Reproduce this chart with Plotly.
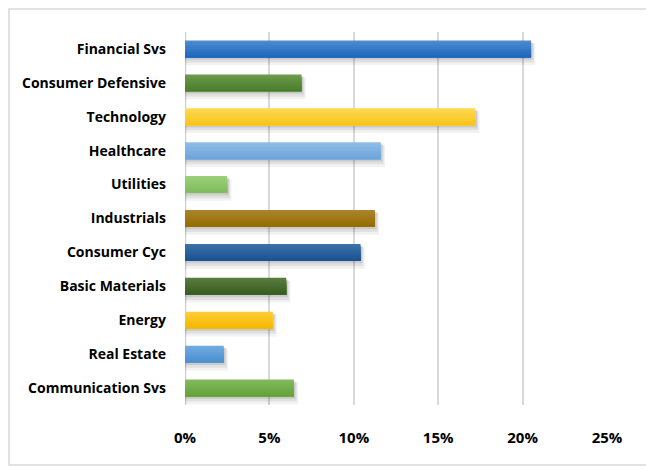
import plotly.graph_objects as go

categories = ["Financial Svs", "Consumer Defensive", "Technology", "Healthcare", "Utilities",
              "Industrials", "Consumer Cyc", "Basic Materials", "Energy", "Real Estate",
              "Communication Svs"]
values = [20.5, 6.9, 17.2, 11.6, 2.5, 11.25, 10.4, 6.0, 5.2, 2.3, 6.45]
top_colors = ["#4D8AD1", "#6A9A4A", "#FFD84F", "#8EBCE7", "#9BCE7B", "#A8832B",
              "#3B70A9", "#577B3D", "#FFCC35", "#70AAE0", "#82B95A"]
bottom_colors = ["#1F69BD", "#4B7E2D", "#F7C41A", "#6EA5DB", "#7FBD5B", "#956E00",
                 "#1B5390", "#395E21", "#F4B900", "#4B90D1", "#64A339"]
tick_vals = [0, 5, 10, 15, 20, 25]
tick_text = ["0%", "5%", "10%", "15%", "20%", "25%"]


def mix(c1, c2, t):
    a = [int(c1[i:i + 2], 16) for i in (1, 3, 5)]
    b = [int(c2[i:i + 2], 16) for i in (1, 3, 5)]
    return "#%02X%02X%02X" % tuple(round(a[k] + (b[k] - a[k]) * t) for k in range(3))


fig = go.Figure()

# soft drop shadow
for dx, off, w, alpha in [(0.25, -0.16, 0.64, 0.05), (0.17, -0.18, 0.58, 0.07), (0.1, -0.2, 0.52, 0.09)]:
    fig.add_trace(go.Bar(
        x=[v + dx for v in values], y=categories, orientation="h",
        marker=dict(color="rgba(0,0,0,%s)" % alpha, line=dict(width=0)),
        width=w, offset=off, hoverinfo="skip",
    ))

# gradient bar: each layer spans from its top edge down to the bar bottom
N = 8
bw = 0.5
for i in range(N):
    t = i / (N - 1)
    fig.add_trace(go.Bar(
        x=values, y=categories, orientation="h",
        marker=dict(color=[mix(a, b, t) for a, b in zip(top_colors, bottom_colors)],
                    line=dict(width=0)),
        width=bw - i * bw / N, offset=-bw / 2 + i * bw / N,
        hoverinfo="x+y" if i == 0 else "skip",
    ))

W, H = 646, 458
L, R, T, B = 177, 47, 24, 61
PW, PH = W - L - R, H - T - B

FONT = "Open Sans"
fig.update_layout(
    width=W, height=H,
    margin=dict(l=L, r=R, t=T, b=B),
    barmode="overlay",
    paper_bgcolor="white", plot_bgcolor="white",
    showlegend=False,
    font=dict(family=FONT, color="#000000"),
    xaxis=dict(
        range=[0, 25], tickvals=tick_vals, ticktext=tick_text,
        showgrid=True, gridcolor="#D9D9D9", gridwidth=1.5,
        zeroline=False, showline=False,
        tickfont=dict(family=FONT, size=15, color="#000000", weight="bold"),
        ticklabelstandoff=22, fixedrange=True,
    ),
    yaxis=dict(
        autorange="reversed",
        showgrid=False, zeroline=False, showline=False,
        tickfont=dict(family=FONT, size=14, color="#000000", weight="bold"),
        ticklabelstandoff=18, fixedrange=True,
    ),
    shapes=[
        dict(type="line", xref="x", yref="paper", x0=0, x1=0, y0=0, y1=1,
             line=dict(color="#D0D0D0", width=2.5), layer="below"),
        dict(type="rect", xref="paper", yref="paper",
             x0=(1 - L) / PW, x1=(W - 1 - L) / PW,
             y0=(T + PH - (H - 1)) / PH, y1=(T + PH - 1) / PH,
             line=dict(color="#D9D9D9", width=1.5), fillcolor="rgba(0,0,0,0)"),
    ],
)

fig.write_html("out.html")
